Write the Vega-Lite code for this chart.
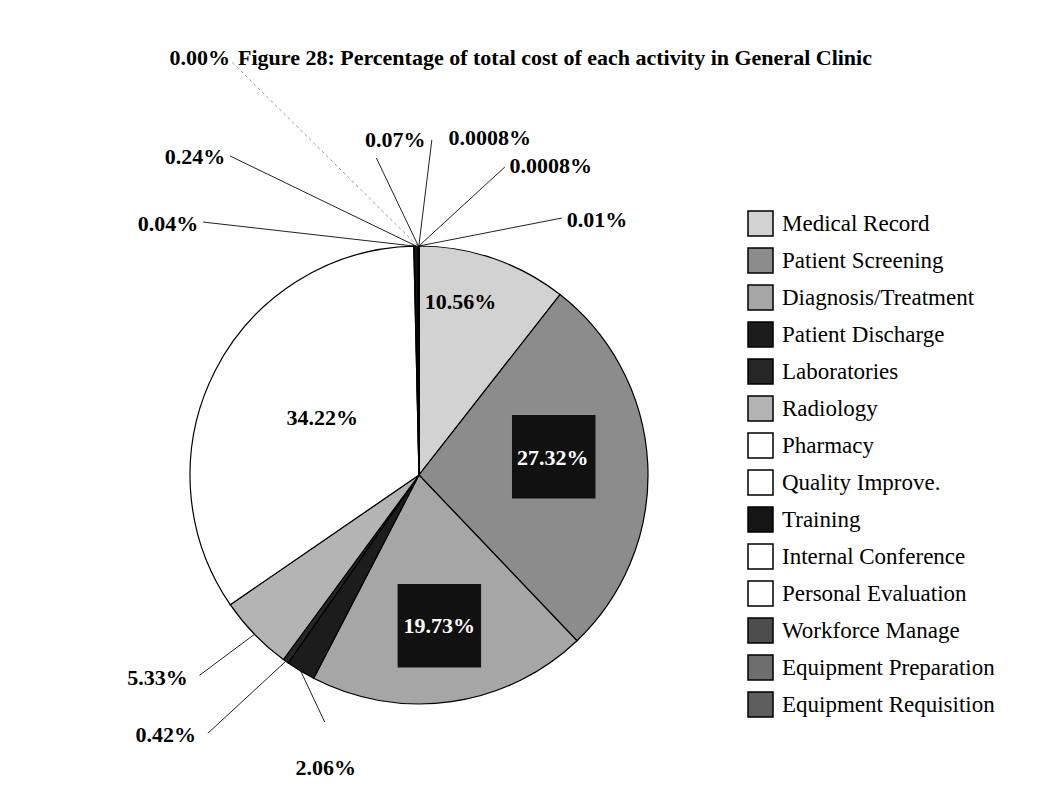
{
  "$schema": "https://vega.github.io/schema/vega-lite/v6.json",
  "width": 458,
  "height": 458,
  "autosize": {"type": "none"},
  "padding": {"left": 190, "top": 246, "right": 404, "bottom": 103},
  "background": "white",
  "title": {"text": "Figure 28: Percentage of total cost of each activity in General Clinic", "anchor": "start", "frame": "group", "dx": 48, "offset": -33, "baseline": "middle", "font": "Liberation Serif", "fontSize": 22, "fontWeight": "bold", "color": "#000"},
  "data": {"values": [
    {"activity": "Medical Record", "pct": 10.56, "label": "10.56%", "order": 1},
    {"activity": "Patient Screening", "pct": 27.32, "label": "27.32%", "order": 2},
    {"activity": "Diagnosis/Treatment", "pct": 19.73, "label": "19.73%", "order": 3},
    {"activity": "Patient Discharge", "pct": 2.06, "label": "2.06%", "order": 4},
    {"activity": "Laboratories", "pct": 0.42, "label": "0.42%", "order": 5},
    {"activity": "Radiology", "pct": 5.33, "label": "5.33%", "order": 6},
    {"activity": "Pharmacy", "pct": 34.22, "label": "34.22%", "order": 7},
    {"activity": "Quality Improve.", "pct": 0.04, "label": "0.04%", "order": 8},
    {"activity": "Training", "pct": 0.24, "label": "0.24%", "order": 9},
    {"activity": "Internal Conference", "pct": 0.0, "label": "0.00%", "order": 10},
    {"activity": "Personal Evaluation", "pct": 0.07, "label": "0.07%", "order": 11},
    {"activity": "Workforce Manage", "pct": 0.0008, "label": "0.0008%", "order": 12},
    {"activity": "Equipment Preparation", "pct": 0.0008, "label": "0.0008%", "order": 13},
    {"activity": "Equipment Requisition", "pct": 0.01, "label": "0.01%", "order": 14}
  ]},
  "transform": [
    {"joinaggregate": [{"op": "sum", "field": "pct", "as": "total"}]},
    {"window": [{"op": "sum", "field": "pct", "as": "c1"}], "sort": [{"field": "order"}], "frame": [null, 0]},
    {"calculate": "(datum.c1 - datum.pct / 2) / datum.total * 2 * PI", "as": "ang"},
    {"calculate": "sin(datum.ang)", "as": "ex"},
    {"calculate": "cos(datum.ang)", "as": "ey"}
  ],
  "config": {
    "view": {"stroke": null},
    "axis": {"disable": true},
    "text": {"font": "Liberation Serif", "fontWeight": "bold", "fontSize": 22, "align": "center", "baseline": "middle", "color": "#000"},
    "rule": {"stroke": "#222", "strokeWidth": 1}
  },
  "layer": [
    {
      "mark": {"type": "arc", "stroke": "#000", "strokeWidth": 1.2},
      "encoding": {
        "theta": {"field": "pct", "type": "quantitative", "stack": true},
        "order": {"field": "order", "type": "quantitative"},
        "color": {
          "field": "activity", "type": "nominal",
          "scale": {
            "domain": ["Medical Record", "Patient Screening", "Diagnosis/Treatment", "Patient Discharge", "Laboratories", "Radiology", "Pharmacy", "Quality Improve.", "Training", "Internal Conference", "Personal Evaluation", "Workforce Manage", "Equipment Preparation", "Equipment Requisition"],
            "range": ["#d2d2d2", "#8c8c8c", "#a6a6a6", "#1c1c1c", "#262626", "#b4b4b4", "#ffffff", "#ffffff", "#161616", "#ffffff", "#ffffff", "#4d4d4d", "#6e6e6e", "#5e5e5e"]
          },
          "legend": {"title": null, "orient": "none", "legendX": 557, "legendY": -36, "symbolType": "square", "symbolSize": 625, "symbolStrokeColor": "#000", "symbolStrokeWidth": 1.5, "symbolOpacity": 1, "labelFont": "Liberation Serif", "labelFontSize": 23, "labelColor": "#000", "labelOffset": 8, "rowPadding": 6, "labelLimit": 400}
        }
      }
    },
    {"transform": [{"filter": "datum.activity === 'Patient Screening'"}],
     "mark": {"type": "square", "size": 6970, "filled": true, "color": "#111", "opacity": 1, "xOffset": -94, "yOffset": -7},
     "encoding": {"x": {"field": "ex", "type": "quantitative", "scale": {"domain": [-1, 1], "nice": false, "zero": false}, "axis": null}, "y": {"field": "ey", "type": "quantitative", "scale": {"domain": [-1, 1], "nice": false, "zero": false}, "axis": null}}},
    {"transform": [{"filter": "datum.activity === 'Diagnosis/Treatment'"}],
     "mark": {"type": "square", "size": 6970, "filled": true, "color": "#111", "opacity": 1, "xOffset": -12, "yOffset": -76},
     "encoding": {"x": {"field": "ex", "type": "quantitative", "scale": {"domain": [-1, 1], "nice": false, "zero": false}, "axis": null}, "y": {"field": "ey", "type": "quantitative", "scale": {"domain": [-1, 1], "nice": false, "zero": false}, "axis": null}}},
    {"transform": [{"filter": "datum.activity === 'Medical Record'"}],
     "mark": {"type": "text", "dx": -33, "dy": 44},
     "encoding": {"x": {"field": "ex", "type": "quantitative", "scale": {"domain": [-1, 1], "nice": false, "zero": false}, "axis": null}, "y": {"field": "ey", "type": "quantitative", "scale": {"domain": [-1, 1], "nice": false, "zero": false}, "axis": null}, "text": {"field": "label"}}},
    {"transform": [{"filter": "datum.activity === 'Patient Screening'"}],
     "mark": {"type": "text", "dx": -95, "dy": -6, "color": "#fff"},
     "encoding": {"x": {"field": "ex", "type": "quantitative", "scale": {"domain": [-1, 1], "nice": false, "zero": false}, "axis": null}, "y": {"field": "ey", "type": "quantitative", "scale": {"domain": [-1, 1], "nice": false, "zero": false}, "axis": null}, "text": {"field": "label"}}},
    {"transform": [{"filter": "datum.activity === 'Diagnosis/Treatment'"}],
     "mark": {"type": "text", "dx": -12, "dy": -76, "color": "#fff"},
     "encoding": {"x": {"field": "ex", "type": "quantitative", "scale": {"domain": [-1, 1], "nice": false, "zero": false}, "axis": null}, "y": {"field": "ey", "type": "quantitative", "scale": {"domain": [-1, 1], "nice": false, "zero": false}, "axis": null}, "text": {"field": "label"}}},
    {"transform": [{"filter": "datum.activity === 'Pharmacy'"}],
     "mark": {"type": "text", "dx": 107, "dy": 47},
     "encoding": {"x": {"field": "ex", "type": "quantitative", "scale": {"domain": [-1, 1], "nice": false, "zero": false}, "axis": null}, "y": {"field": "ey", "type": "quantitative", "scale": {"domain": [-1, 1], "nice": false, "zero": false}, "axis": null}, "text": {"field": "label"}}},
    {"transform": [{"filter": "datum.activity === 'Patient Discharge'"}],
     "mark": {"type": "rule", "x2Offset": 24, "y2Offset": 51},
     "encoding": {"x": {"field": "ex", "type": "quantitative", "scale": {"domain": [-1, 1], "nice": false, "zero": false}, "axis": null}, "y": {"field": "ey", "type": "quantitative", "scale": {"domain": [-1, 1], "nice": false, "zero": false}, "axis": null}, "x2": {"field": "ex"}, "y2": {"field": "ey"}}},
    {"transform": [{"filter": "datum.activity === 'Patient Discharge'"}],
     "mark": {"type": "text", "dx": 25, "dy": 97},
     "encoding": {"x": {"field": "ex", "type": "quantitative", "scale": {"domain": [-1, 1], "nice": false, "zero": false}, "axis": null}, "y": {"field": "ey", "type": "quantitative", "scale": {"domain": [-1, 1], "nice": false, "zero": false}, "axis": null}, "text": {"field": "label"}}},
    {"transform": [{"filter": "datum.activity === 'Laboratories'"}],
     "mark": {"type": "rule", "x2Offset": -78, "y2Offset": 72},
     "encoding": {"x": {"field": "ex", "type": "quantitative", "scale": {"domain": [-1, 1], "nice": false, "zero": false}, "axis": null}, "y": {"field": "ey", "type": "quantitative", "scale": {"domain": [-1, 1], "nice": false, "zero": false}, "axis": null}, "x2": {"field": "ex"}, "y2": {"field": "ey"}}},
    {"transform": [{"filter": "datum.activity === 'Laboratories'"}],
     "mark": {"type": "text", "dx": -120, "dy": 74},
     "encoding": {"x": {"field": "ex", "type": "quantitative", "scale": {"domain": [-1, 1], "nice": false, "zero": false}, "axis": null}, "y": {"field": "ey", "type": "quantitative", "scale": {"domain": [-1, 1], "nice": false, "zero": false}, "axis": null}, "text": {"field": "label"}}},
    {"transform": [{"filter": "datum.activity === 'Radiology'"}],
     "mark": {"type": "rule", "x2Offset": -55, "y2Offset": 41},
     "encoding": {"x": {"field": "ex", "type": "quantitative", "scale": {"domain": [-1, 1], "nice": false, "zero": false}, "axis": null}, "y": {"field": "ey", "type": "quantitative", "scale": {"domain": [-1, 1], "nice": false, "zero": false}, "axis": null}, "x2": {"field": "ex"}, "y2": {"field": "ey"}}},
    {"transform": [{"filter": "datum.activity === 'Radiology'"}],
     "mark": {"type": "text", "dx": -97, "dy": 44},
     "encoding": {"x": {"field": "ex", "type": "quantitative", "scale": {"domain": [-1, 1], "nice": false, "zero": false}, "axis": null}, "y": {"field": "ey", "type": "quantitative", "scale": {"domain": [-1, 1], "nice": false, "zero": false}, "axis": null}, "text": {"field": "label"}}},
    {"transform": [{"filter": "datum.activity === 'Quality Improve.'"}],
     "mark": {"type": "rule", "x2Offset": -211, "y2Offset": -24},
     "encoding": {"x": {"field": "ex", "type": "quantitative", "scale": {"domain": [-1, 1], "nice": false, "zero": false}, "axis": null}, "y": {"field": "ey", "type": "quantitative", "scale": {"domain": [-1, 1], "nice": false, "zero": false}, "axis": null}, "x2": {"field": "ex"}, "y2": {"field": "ey"}}},
    {"transform": [{"filter": "datum.activity === 'Quality Improve.'"}],
     "mark": {"type": "text", "dx": -246, "dy": -22},
     "encoding": {"x": {"field": "ex", "type": "quantitative", "scale": {"domain": [-1, 1], "nice": false, "zero": false}, "axis": null}, "y": {"field": "ey", "type": "quantitative", "scale": {"domain": [-1, 1], "nice": false, "zero": false}, "axis": null}, "text": {"field": "label"}}},
    {"transform": [{"filter": "datum.activity === 'Training'"}],
     "mark": {"type": "rule", "x2Offset": -186, "y2Offset": -90},
     "encoding": {"x": {"field": "ex", "type": "quantitative", "scale": {"domain": [-1, 1], "nice": false, "zero": false}, "axis": null}, "y": {"field": "ey", "type": "quantitative", "scale": {"domain": [-1, 1], "nice": false, "zero": false}, "axis": null}, "x2": {"field": "ex"}, "y2": {"field": "ey"}}},
    {"transform": [{"filter": "datum.activity === 'Training'"}],
     "mark": {"type": "text", "dx": -221, "dy": -89},
     "encoding": {"x": {"field": "ex", "type": "quantitative", "scale": {"domain": [-1, 1], "nice": false, "zero": false}, "axis": null}, "y": {"field": "ey", "type": "quantitative", "scale": {"domain": [-1, 1], "nice": false, "zero": false}, "axis": null}, "text": {"field": "label"}}},
    {"transform": [{"filter": "datum.activity === 'Internal Conference'"}],
     "mark": {"type": "rule", "x2Offset": -188, "y2Offset": -186, "stroke": "#999", "strokeDash": [3, 3]},
     "encoding": {"x": {"field": "ex", "type": "quantitative", "scale": {"domain": [-1, 1], "nice": false, "zero": false}, "axis": null}, "y": {"field": "ey", "type": "quantitative", "scale": {"domain": [-1, 1], "nice": false, "zero": false}, "axis": null}, "x2": {"field": "ex"}, "y2": {"field": "ey"}}},
    {"transform": [{"filter": "datum.activity === 'Internal Conference'"}],
     "mark": {"type": "text", "dx": -218, "dy": -188},
     "encoding": {"x": {"field": "ex", "type": "quantitative", "scale": {"domain": [-1, 1], "nice": false, "zero": false}, "axis": null}, "y": {"field": "ey", "type": "quantitative", "scale": {"domain": [-1, 1], "nice": false, "zero": false}, "axis": null}, "text": {"field": "label"}}},
    {"transform": [{"filter": "datum.activity === 'Personal Evaluation'"}],
     "mark": {"type": "rule", "x2Offset": -42, "y2Offset": -88},
     "encoding": {"x": {"field": "ex", "type": "quantitative", "scale": {"domain": [-1, 1], "nice": false, "zero": false}, "axis": null}, "y": {"field": "ey", "type": "quantitative", "scale": {"domain": [-1, 1], "nice": false, "zero": false}, "axis": null}, "x2": {"field": "ex"}, "y2": {"field": "ey"}}},
    {"transform": [{"filter": "datum.activity === 'Personal Evaluation'"}],
     "mark": {"type": "text", "dx": -23, "dy": -106},
     "encoding": {"x": {"field": "ex", "type": "quantitative", "scale": {"domain": [-1, 1], "nice": false, "zero": false}, "axis": null}, "y": {"field": "ey", "type": "quantitative", "scale": {"domain": [-1, 1], "nice": false, "zero": false}, "axis": null}, "text": {"field": "label"}}},
    {"transform": [{"filter": "datum.activity === 'Workforce Manage'"}],
     "mark": {"type": "rule", "x2Offset": 13, "y2Offset": -106},
     "encoding": {"x": {"field": "ex", "type": "quantitative", "scale": {"domain": [-1, 1], "nice": false, "zero": false}, "axis": null}, "y": {"field": "ey", "type": "quantitative", "scale": {"domain": [-1, 1], "nice": false, "zero": false}, "axis": null}, "x2": {"field": "ex"}, "y2": {"field": "ey"}}},
    {"transform": [{"filter": "datum.activity === 'Workforce Manage'"}],
     "mark": {"type": "text", "dx": 71, "dy": -108},
     "encoding": {"x": {"field": "ex", "type": "quantitative", "scale": {"domain": [-1, 1], "nice": false, "zero": false}, "axis": null}, "y": {"field": "ey", "type": "quantitative", "scale": {"domain": [-1, 1], "nice": false, "zero": false}, "axis": null}, "text": {"field": "label"}}},
    {"transform": [{"filter": "datum.activity === 'Equipment Preparation'"}],
     "mark": {"type": "rule", "x2Offset": 86, "y2Offset": -79},
     "encoding": {"x": {"field": "ex", "type": "quantitative", "scale": {"domain": [-1, 1], "nice": false, "zero": false}, "axis": null}, "y": {"field": "ey", "type": "quantitative", "scale": {"domain": [-1, 1], "nice": false, "zero": false}, "axis": null}, "x2": {"field": "ex"}, "y2": {"field": "ey"}}},
    {"transform": [{"filter": "datum.activity === 'Equipment Preparation'"}],
     "mark": {"type": "text", "dx": 132, "dy": -80},
     "encoding": {"x": {"field": "ex", "type": "quantitative", "scale": {"domain": [-1, 1], "nice": false, "zero": false}, "axis": null}, "y": {"field": "ey", "type": "quantitative", "scale": {"domain": [-1, 1], "nice": false, "zero": false}, "axis": null}, "text": {"field": "label"}}},
    {"transform": [{"filter": "datum.activity === 'Equipment Requisition'"}],
     "mark": {"type": "rule", "x2Offset": 143, "y2Offset": -28},
     "encoding": {"x": {"field": "ex", "type": "quantitative", "scale": {"domain": [-1, 1], "nice": false, "zero": false}, "axis": null}, "y": {"field": "ey", "type": "quantitative", "scale": {"domain": [-1, 1], "nice": false, "zero": false}, "axis": null}, "x2": {"field": "ex"}, "y2": {"field": "ey"}}},
    {"transform": [{"filter": "datum.activity === 'Equipment Requisition'"}],
     "mark": {"type": "text", "dx": 178, "dy": -26},
     "encoding": {"x": {"field": "ex", "type": "quantitative", "scale": {"domain": [-1, 1], "nice": false, "zero": false}, "axis": null}, "y": {"field": "ey", "type": "quantitative", "scale": {"domain": [-1, 1], "nice": false, "zero": false}, "axis": null}, "text": {"field": "label"}}}
  ]
}
